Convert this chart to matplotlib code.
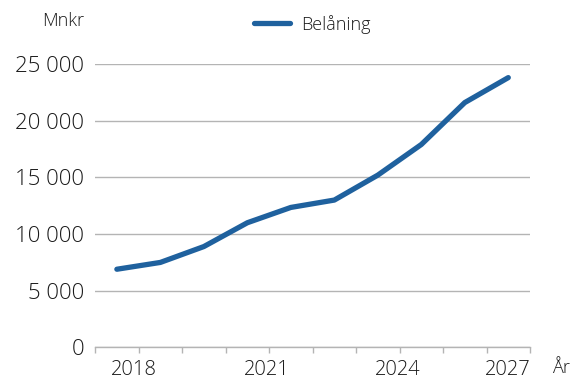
import numpy as np
import matplotlib.pyplot as plt

plt.rcParams['font.family'] = ['Open Sans', 'DejaVu Sans']
plt.rcParams['font.weight'] = 'light'

# Belåning, mnkr
verdier = [6900, 7500, 8900, 11000, 12350, 13000, 15200, 17900, 21600, 23800]
aar_etiketter = ['2018', '2021', '2024', '2027']
aar_pos = [0.4, 3.45, 6.45, 9.0]
y_ticks = [0, 5000, 10000, 15000, 20000, 25000]
y_etiketter = ['0', '5 000', '10 000', '15 000', '20 000', '25 000']

farge = '#1f619e'
grid_farge = '#b4b4b4'
tekst_farge = '#1a1a1a'

fig = plt.figure(figsize=(5.73, 3.81), dpi=100)
ax = fig.add_axes([0.166, 0.088, 0.759, 0.744])

x = np.arange(len(verdier))
ax.plot(x, verdier, color=farge, linewidth=3.8, solid_capstyle='round',
        solid_joinstyle='round', label='Belåning', zorder=3)

ax.set_xlim(-0.5, len(verdier) - 0.5)
ax.set_ylim(0, 25000)

ax.set_yticks(y_ticks)
ax.set_yticklabels(y_etiketter)
ax.yaxis.grid(True, color=grid_farge, linewidth=1.0)
ax.set_axisbelow(True)

# små streker mellom kategoriene, årstall for hvert tredje år
ax.set_xticks(np.arange(-0.5, len(verdier)), minor=True)
ax.set_xticks(aar_pos)
ax.set_xticklabels(aar_etiketter)
ax.tick_params(axis='x', which='minor', length=4, width=1, color=grid_farge)
ax.tick_params(axis='x', which='major', length=0, pad=9, labelsize=14.5)
ax.tick_params(axis='y', length=0, pad=8, labelsize=16)
ax.tick_params(labelcolor=tekst_farge)

for side in ['top', 'right', 'left']:
    ax.spines[side].set_visible(False)
ax.spines['bottom'].set_color(grid_farge)
ax.spines['bottom'].set_linewidth(1.0)

fig.text(0.147, 0.945, 'Mnkr', ha='right', va='center', fontsize=13, color=tekst_farge)
fig.text(0.963, 0.034, 'År', ha='left', va='center', fontsize=13, color=tekst_farge)

ax.legend(loc='lower center', bbox_to_anchor=(0.5, 1.05), frameon=False,
          fontsize=13, handlelength=2.0, handletextpad=0.6,
          labelcolor=tekst_farge)

fig.savefig('out.png', dpi=100)
